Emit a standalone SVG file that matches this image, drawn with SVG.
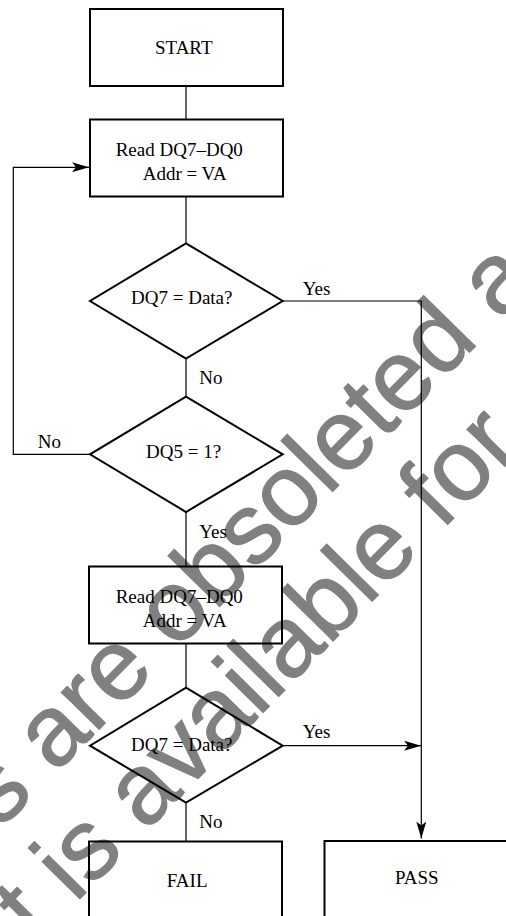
<svg xmlns="http://www.w3.org/2000/svg" width="506" height="916" viewBox="0 0 506 916">
  <style>
    .box { fill: none; stroke: #000; stroke-width: 2; }
    .dia { fill: none; stroke: #000; stroke-width: 2; stroke-linejoin: miter; }
    .con { fill: none; stroke: #000; stroke-width: 1.2; }
    .t { font-family: "Liberation Serif", "Times New Roman", serif; font-size: 19px; fill: #000; }
    .wm { font-family: "Liberation Sans", Arial, sans-serif; font-size: 100px; fill: #808080; stroke: #808080; stroke-width: 1.2; }
  </style>
  <defs>
    <marker id="arr" markerUnits="userSpaceOnUse" markerWidth="20" markerHeight="12" refX="17" refY="5" orient="auto" viewBox="0 0 20 12">
      <path d="M17,5 L0,0 L4,5 L0,10 Z" fill="#000"/>
    </marker>
  </defs>
  <rect width="506" height="916" fill="#fff"/>

  <g id="watermark">
    <text class="wm" transform="rotate(-45.5 0.8 829.4)" x="0.8" y="829.4">s are obsoleted a</text>
    <text class="wm" transform="rotate(-45.5 36.4 943.1)" x="36.4" y="943.1">t is available for</text>
  </g>

  <g id="connectors">
    <line class="con" x1="186" y1="86" x2="186" y2="119.5"/>
    <line class="con" x1="186" y1="196.5" x2="186" y2="243.3"/>
    <line class="con" x1="186" y1="358.7" x2="186" y2="396.7"/>
    <polyline class="con" points="90,454.3 13.3,454.3 13.3,167.3 89,167.3" marker-end="url(#arr)"/>
    <line class="con" x1="186" y1="512" x2="186" y2="566.5"/>
    <polyline class="con" points="282.7,301 421.3,301 421.3,838.5" marker-end="url(#arr)"/>
    <line class="con" x1="186" y1="643.5" x2="186" y2="687.7"/>
    <line class="con" x1="282.7" y1="745.7" x2="421" y2="745.7" marker-end="url(#arr)"/>
    <line class="con" x1="186" y1="802.7" x2="186" y2="841.5"/>
    <text class="t" x="302.7" y="294.5">Yes</text>
    <text class="t" x="199.3" y="384">No</text>
    <text class="t" x="37.7" y="447.7">No</text>
    <text class="t" x="199.3" y="537.7">Yes</text>
    <text class="t" x="302.7" y="738">Yes</text>
    <text class="t" x="199.3" y="828">No</text>
  </g>

  <g id="start">
    <rect class="box" x="90" y="9" width="193" height="77"/>
    <text class="t" x="155" y="54">START</text>
  </g>
  <g id="read1">
    <rect class="box" x="90" y="119.5" width="193" height="77"/>
    <text class="t" x="115.7" y="155.7">Read DQ7–DQ0</text>
    <text class="t" x="142.7" y="180">Addr = VA</text>
  </g>
  <g id="dq7check1">
    <polygon class="dia" points="186,243.3 282.7,301 186,358.7 90,301"/>
    <text class="t" x="131" y="304">DQ7 = Data?</text>
  </g>
  <g id="dq5check">
    <polygon class="dia" points="186,396.7 282.7,454.3 186,512 90,454.3"/>
    <text class="t" x="146" y="458.3">DQ5 = 1?</text>
  </g>
  <g id="read2">
    <rect class="box" x="89" y="566.5" width="193" height="77"/>
    <text class="t" x="115.7" y="602.7">Read DQ7–DQ0</text>
    <text class="t" x="142.7" y="626.7">Addr = VA</text>
  </g>
  <g id="dq7check2">
    <polygon class="dia" points="186,687.7 282.7,745.7 186,802.7 90,745.7"/>
    <text class="t" x="131" y="751">DQ7 = Data?</text>
  </g>
  <g id="fail">
    <rect class="box" x="89" y="841.5" width="193" height="77"/>
    <text class="t" x="166.7" y="887.3">FAIL</text>
  </g>
  <g id="pass">
    <rect class="box" x="324.5" y="841" width="193" height="77"/>
    <text class="t" x="395" y="884.3">PASS</text>
  </g>
</svg>
